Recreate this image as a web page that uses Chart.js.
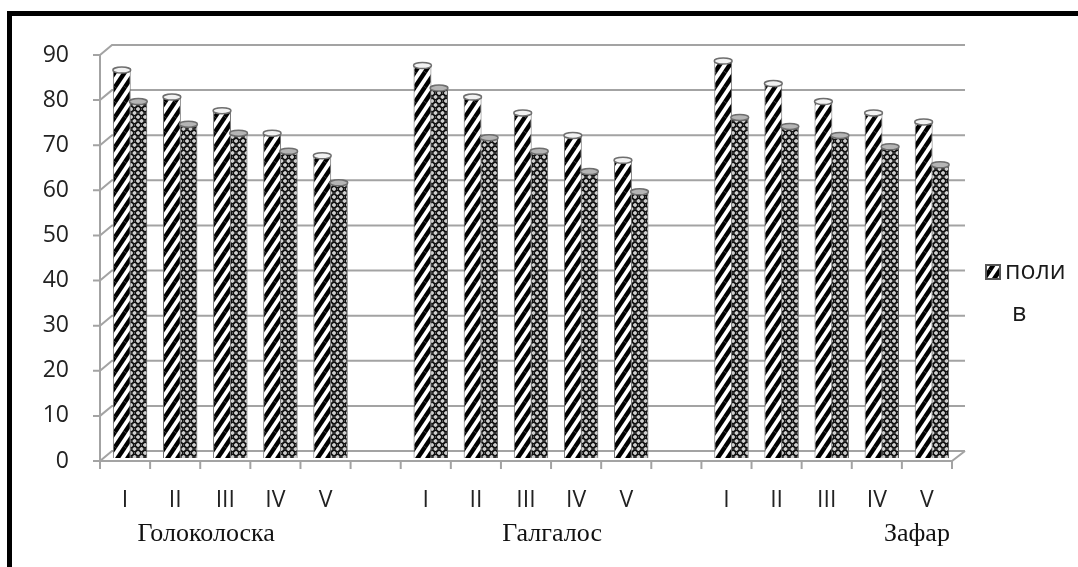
<!DOCTYPE html>
<html>
<head>
<meta charset="utf-8">
<script src="https://cdn.jsdelivr.net/npm/chart.js@4.4.1/dist/chart.umd.min.js"></script>
<style>
html,body{margin:0;padding:0;background:#fff;}
#wrap{width:1078px;height:567px;position:relative;}
</style>
</head>
<body>
<div id="wrap"><canvas id="c" width="1078" height="567"></canvas></div>
<script>
// ---- data ----
const categories = ["I","II","III","IV","V","","I","II","III","IV","V","","I","II","III","IV","V"];
const groups = ["Голоколоска","Галгалос","Зафар"];
const seriesPoliv = [86, 80, 77, 72, 67, null, 87, 80, 76.5, 71.5, 66, null, 88, 83, 79, 76.5, 74.5];
const seriesSecond = [79, 74, 72, 68, 61, null, 82, 71, 68, 63.5, 59, null, 75.5, 73.5, 71.5, 69, 65];
const seriesNames = ["полив", "без полива"];
const yTicks = [0,10,20,30,40,50,60,70,80,90];

// ---- patterns ----
function stripePattern(){
  const w=10,h=15,c=document.createElement('canvas');c.width=w;c.height=h;
  const g=c.getContext('2d');
  g.fillStyle='#ffffff';g.fillRect(0,0,w,h);
  g.strokeStyle='#000';g.lineWidth=4.4;
  for(const dx of [-w,0,w])for(const dy of [-h,0,h]){
    g.beginPath();g.moveTo(dx,h+dy);g.lineTo(w+dx,dy);g.stroke();
  }
  return g.createPattern(c,'repeat');
}
function meshPattern(){
  const w=7,h=8,c=document.createElement('canvas');c.width=w;c.height=h;
  const g=c.getContext('2d');
  g.fillStyle='#cfcfcf';g.fillRect(0,0,w,h);
  g.strokeStyle='#111';g.lineWidth=1.4;
  const pts=[[3.5,4],[0,0],[7,0],[0,8],[7,8]];
  for(const [x,y] of pts){g.beginPath();g.ellipse(x,y,2.7,2.6,0,0,Math.PI*2);g.stroke();}
  return g.createPattern(c,'repeat');
}
const pStripe=stripePattern(), pMesh=meshPattern();

const BACK_DX=12, BACK_DY=-10, BAR_DX=5, BAR_DY=-3;
const GRID='#a3a3a3';
const SANS='"Open Sans", "Noto Sans", sans-serif';

const frame3d={
  id:'frame3d',
  beforeDraw(chart){
    const ctx=chart.ctx;
    ctx.save();
    ctx.fillStyle='#fff';ctx.fillRect(0,0,chart.width,chart.height);
    ctx.fillStyle='#000';
    ctx.fillRect(7,11,5,chart.height);
    ctx.fillRect(7,11,chart.width,5);
    ctx.restore();
  },
  beforeDatasetsDraw(chart){
    const ctx=chart.ctx, y=chart.scales.y, a=chart.chartArea;
    ctx.save();
    ctx.strokeStyle=GRID;ctx.lineWidth=2;
    for(const v of yTicks){
      const py=y.getPixelForValue(v);
      ctx.beginPath();
      ctx.moveTo(a.left-7,py);ctx.lineTo(a.left,py);
      ctx.lineTo(a.left+BACK_DX,py+BACK_DY);
      ctx.lineTo(a.right+BACK_DX+1,py+BACK_DY);
      ctx.stroke();
    }
    ctx.beginPath();ctx.moveTo(a.left,y.getPixelForValue(90));ctx.lineTo(a.left,y.getPixelForValue(0));ctx.stroke();
    const p0=y.getPixelForValue(0);
    ctx.beginPath();ctx.moveTo(a.left,p0);ctx.lineTo(a.right,p0);ctx.lineTo(a.right+BACK_DX+1,p0+BACK_DY);ctx.stroke();
    const n=categories.length, step=(a.right-a.left)/n;
    for(let i=0;i<=n;i++){
      const px=a.left+i*step;
      ctx.beginPath();ctx.moveTo(px,p0);ctx.lineTo(px,p0+8);ctx.stroke();
    }
    ctx.restore();
    ctx.save();
    ctx.translate(BAR_DX,BAR_DY);
  },
  afterDatasetsDraw(chart){
    const ctx=chart.ctx;
    chart.data.datasets.forEach((ds,di)=>{
      const meta=chart.getDatasetMeta(di);
      meta.data.forEach((el,i)=>{
        if(ds.data[i]==null)return;
        const p=el.getProps(['x','y','width'],true);
        ctx.beginPath();
        ctx.ellipse(p.x,p.y,p.width/2,3,0,0,Math.PI*2);
        ctx.fillStyle=di===0?'#f2f2f2':'#b5b5b5';
        ctx.fill();
        ctx.strokeStyle='#6e6e6e';ctx.lineWidth=1.5;ctx.stroke();
      });
    });
    ctx.restore();
  },
  afterDraw(chart){
    const ctx=chart.ctx, a=chart.chartArea;
    const step=(a.right-a.left)/categories.length;
    ctx.save();
    ctx.font='26px "Liberation Serif", "Times New Roman", serif';
    ctx.fillStyle='#111';ctx.textAlign='center';ctx.textBaseline='alphabetic';
    const anchors=[1.62,8.52,15.8];
    groups.forEach((g,i)=>{ctx.fillText(g,a.left+(anchors[i]+0.5)*step,541);});
    const lx=985, ly=264, s=16;
    ctx.fillStyle=pStripe;ctx.fillRect(lx,ly,s,s);
    ctx.strokeStyle='#555';ctx.lineWidth=2;ctx.strokeRect(lx+1,ly+1,s-2,s-2);
    ctx.font='25px '+SANS;ctx.fillStyle='#1a1a1a';ctx.textAlign='left';ctx.textBaseline='middle';
    const name=seriesNames[0];
    ctx.fillText(name.slice(0,4),1005,272);
    ctx.fillText(name.slice(4),1012,314);
    ctx.restore();
  }
};

function build(){
new Chart(document.getElementById('c'),{
  type:'bar',
  data:{
    labels:categories,
    datasets:[
      {label:seriesNames[0],data:seriesPoliv,backgroundColor:pStripe,borderColor:'#6e6e6e',borderWidth:1,order:0,
       categoryPercentage:0.66,barPercentage:1.08},
      {label:seriesNames[1],data:seriesSecond,backgroundColor:pMesh,borderColor:'#555',borderWidth:1,order:1,
       categoryPercentage:0.66,barPercentage:1.08}
    ]
  },
  options:{
    responsive:false,animation:false,devicePixelRatio:1,
    layout:{padding:{left:0,top:55,right:126,bottom:0}},
    plugins:{legend:{display:false},tooltip:{enabled:false}},
    datasets:{bar:{clip:false}},
    scales:{
      x:{
        grid:{display:false},border:{display:false},
        ticks:{autoSkip:false,maxRotation:0,padding:18,color:'#222',font:{family:SANS,size:23}},
        afterFit(s){s.height=106;}
      },
      y:{
        min:0,max:90,
        grid:{display:false},border:{display:false},
        ticks:{stepSize:10,padding:23,color:'#222',font:{family:SANS,size:23}},
        afterFit(s){s.width=100;}
      }
    }
  },
  plugins:[frame3d]
});
}
Promise.all([
  document.fonts.load('22px "Open Sans"'),
  document.fonts.load('26px "Liberation Serif"')
]).then(build, build);
</script>
</body>
</html>
